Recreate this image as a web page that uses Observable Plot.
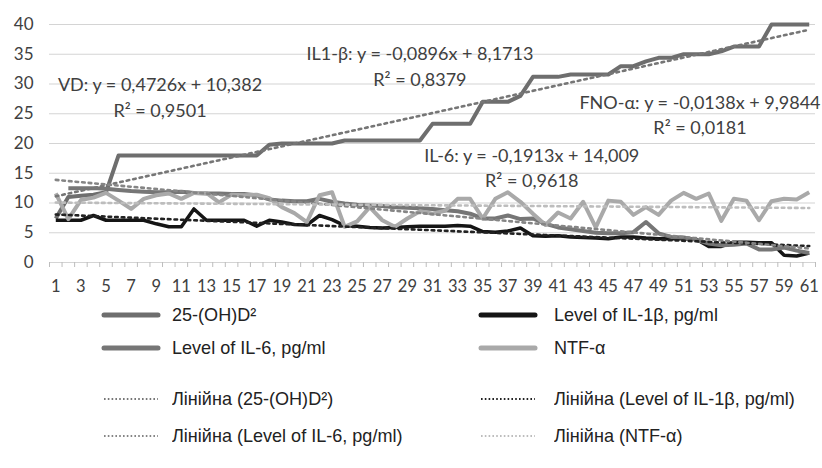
<!DOCTYPE html>
<html><head><meta charset="utf-8">
<script src="https://cdn.jsdelivr.net/npm/d3@7"></script>
<script src="https://cdn.jsdelivr.net/npm/@observablehq/plot@0.6"></script>
<style>
body{margin:0;background:#fff;}
#wrap{position:relative;width:822px;height:468px;overflow:hidden;background:#fff;}
#chart{position:absolute;left:0;top:0;}
.leg{position:absolute;font-family:"Liberation Sans Narrow","Liberation Sans",Arial,sans-serif;font-size:19px;color:#222;white-space:nowrap;line-height:22px;transform:scaleX(0.95);transform-origin:0 50%;}
.sw{position:absolute;}
</style></head><body><div id="wrap"><div id="chart"></div></div>
<script>
// ---- data ----
const categories = d3.range(1, 62);
const xTickLabels = [1,3,5,7,9,11,13,15,17,19,21,23,25,27,29,31,33,35,37,39,41,43,45,47,49,51,53,55,57,59,61];
const yTicks = [0,5,10,15,20,25,30,35,40];

const vd = [7.4,11.0,11.2,11.4,11.8,18,18,18,18,18,18,18,18,18,18,18,18,
  19.8,20,20,20,20,20,20.5,20.5,20.5,20.5,20.5,20.5,20.5,
  23.3,23.3,23.3,23.3,27,27,27,28,31.2,31.2,31.2,31.6,31.6,31.6,31.6,
  33,33,33.8,34.4,34.4,35,35,35,35.5,36.3,36.3,36.3,40,40,40,40];
const il1b = [7.1,7.1,7.1,7.9,7.1,7.1,7.1,7.1,6.5,6.0,6.0,9.0,7.1,7.1,7.1,7.1,
  6.1,7.1,6.8,6.4,6.3,7.9,7.2,6.2,6.1,5.9,5.8,5.9,6.0,6.1,
  6.1,6.1,6.2,6.1,5.2,5.1,5.3,5.8,4.5,4.4,4.5,4.3,4.2,4.1,4.0,
  4.3,4.3,4.1,4.0,4.0,4.0,3.9,2.7,2.7,3.4,3.4,3.3,3.3,1.2,1.1,1.6];
const il6 = [null,12.5,12.5,12.5,12.4,12.2,12.0,11.9,11.8,11.8,11.9,11.7,11.6,11.6,11.5,11.5,
  11.3,10.6,10.4,10.3,10.3,10.7,10.2,9.9,9.7,9.6,9.5,9.3,9.2,9.1,
  9.0,8.8,8.6,8.2,7.4,7.4,7.9,7.3,7.4,6.5,5.9,5.6,5.3,5.0,4.9,
  4.9,5.1,6.8,4.9,4.3,4.2,3.8,3.2,2.9,3.0,3.2,2.2,2.2,2.5,2.0,1.6];
const ntf = [11.6,7.3,10.5,10.9,11.7,10.4,9.0,10.7,11.3,11.6,10.7,11.7,11.7,10.1,11.4,
  11.3,11.4,10.8,9.3,8.3,6.8,11.3,11.8,6.0,6.9,9.3,7.1,6.0,7.4,8.6,
  8.2,8.7,10.7,10.7,7.4,10.7,11.8,10.2,8.2,6.3,8.4,7.4,10.2,5.9,10.4,
  10.2,8.0,9.3,8.0,10.4,11.7,10.7,11.6,7.0,10.7,10.4,7.1,10.3,10.7,10.6,11.8];

const seriesNames = ["25-(OH)D²","Level of IL-1β, pg/ml","Level of IL-6, pg/ml","NTF-α"];
const trendNames = ["Лінійна (25-(OH)D²)","Лінійна (Level of IL-1β, pg/ml)","Лінійна (Level of IL-6, pg/ml)","Лінійна (NTF-α)"];
const labelTexts = [
  "VD: y = 0,4726x + 10,382\nR² = 0,9501",
  "IL1-β: y = -0,0896x + 8,1713\nR² = 0,8379",
  "IL-6: y = -0,1913x + 14,009\nR² = 0,9618",
  "FNO-α: y = -0,0138x + 9,9844\nR² = 0,0181"
];
// label anchor positions in data units (category, value)
const labelX = [9.3, 30.0, 38.9, 52.3];
const labelY = [28.0, 33.2, 16.2, 25.1];

// ---- styles ----
const colors = ["#6e6e6e","#151515","#767676","#a9a9a9"];
const trendColors = ["#767676","#222222","#858585","#bdbdbd"];
const widths = [4,3.5,4,4];

// ---- build tables ----
const values = [vd, il1b, il6, ntf];
const tables = values.map((arr, s) => categories.map((c, i) => ({cat: c, value: arr[i], series: seriesNames[s]})));
function fit(arr) {
  const pts = categories.map((c,i)=>[c, arr[i]]).filter(d => d[1] != null);
  const n = pts.length;
  const sx = d3.sum(pts, d=>d[0]), sy = d3.sum(pts, d=>d[1]);
  const sxx = d3.sum(pts, d=>d[0]*d[0]), sxy = d3.sum(pts, d=>d[0]*d[1]);
  const m = (n*sxy - sx*sy) / (n*sxx - sx*sx);
  const b = (sy - m*sx) / n;
  const [x0, x1] = d3.extent(categories);
  return [{cat: x0, value: b + m*x0}, {cat: x1, value: b + m*x1}];
}
const trends = values.map(fit);
const labels = labelTexts.map((t,i)=>({text:t, x:labelX[i], y:labelY[i]}));
const boundaries = d3.range(categories.length + 1).map(i => categories[0] - 0.5 + i);

const marks = [
  Plot.gridY(yTicks, {stroke: "#d4d4d4", strokeOpacity: 1, strokeWidth: 1.2}),
  Plot.axisY(yTicks, {tickSize: 0, tickPadding: 16, fontSize: 17, fill: "#404040", label: null}),
  Plot.axisX(boundaries, {tickSize: 5, stroke: "#bdbdbd", strokeWidth: 1, tickFormat: () => "", label: null}),
  Plot.axisX(xTickLabels, {tickSize: 0, tickPadding: 18, fontSize: 16.5, fill: "#404040", label: null}),
];
tables.forEach((t, s) => marks.push(Plot.line(t, {x: "cat", y: "value", stroke: colors[s], strokeWidth: widths[s], strokeLinejoin: "round", strokeLinecap: "butt"})));
trends.forEach((t, s) => marks.push(Plot.line(t, {x: "cat", y: "value", stroke: trendColors[s], strokeWidth: 2.6, strokeDasharray: "2.6 4"})));
marks.push(Plot.text(labels, {x: "x", y: "y", text: "text", fontSize: 18, fill: "#404040", lineHeight: 1.4, textAnchor: "middle"}));

const chart = Plot.plot({
  width: 822, height: 310,
  marginLeft: 49, marginRight: 7, marginTop: 24, marginBottom: 48,
  x: {domain: [categories[0] - 0.5, categories[categories.length-1] + 0.5], axis: null},
  y: {domain: [0, 40], axis: null},
  style: {fontFamily: "Lato, 'Open Sans', sans-serif", background: "white", overflow: "visible"},
  marks
});
document.getElementById("chart").appendChild(chart);

// ---- legend ----
const wrap = document.getElementById("wrap");
const rowsY = [315, 348, 399, 436];
const colSw = [101, 478];
const colTx = [172, 554];
const legendItems = [
  {name: seriesNames[0], c: colors[0], dash: false, col: 0, row: 0},
  {name: seriesNames[1], c: colors[1], dash: false, col: 1, row: 0},
  {name: seriesNames[2], c: colors[2], dash: false, col: 0, row: 1},
  {name: seriesNames[3], c: colors[3], dash: false, col: 1, row: 1},
  {name: trendNames[0], c: trendColors[0], dash: true, col: 0, row: 2},
  {name: trendNames[1], c: trendColors[1], dash: true, col: 1, row: 2},
  {name: trendNames[2], c: trendColors[2], dash: true, col: 0, row: 3},
  {name: trendNames[3], c: trendColors[3], dash: true, col: 1, row: 3},
];
legendItems.forEach(it => {
  const sw = document.createElementNS("http://www.w3.org/2000/svg", "svg");
  sw.setAttribute("width", 60); sw.setAttribute("height", 10);
  sw.setAttribute("class", "sw");
  sw.style.left = colSw[it.col] + "px";
  sw.style.top = (rowsY[it.row] - 5) + "px";
  const ln = document.createElementNS("http://www.w3.org/2000/svg", "line");
  ln.setAttribute("x1", 3); ln.setAttribute("x2", 57); ln.setAttribute("y1", 5); ln.setAttribute("y2", 5);
  ln.setAttribute("stroke", it.c);
  ln.setAttribute("stroke-width", it.dash ? 2 : 5);
  ln.setAttribute("stroke-linecap", it.dash ? "butt" : "round");
  if (it.dash) ln.setAttribute("stroke-dasharray", "1.6 2.2");
  sw.appendChild(ln);
  wrap.appendChild(sw);
  const tx = document.createElement("div");
  tx.className = "leg";
  tx.style.left = colTx[it.col] + "px";
  tx.style.top = (rowsY[it.row] - 11) + "px";
  tx.textContent = it.name;
  wrap.appendChild(tx);
});
</script>
</body></html>
